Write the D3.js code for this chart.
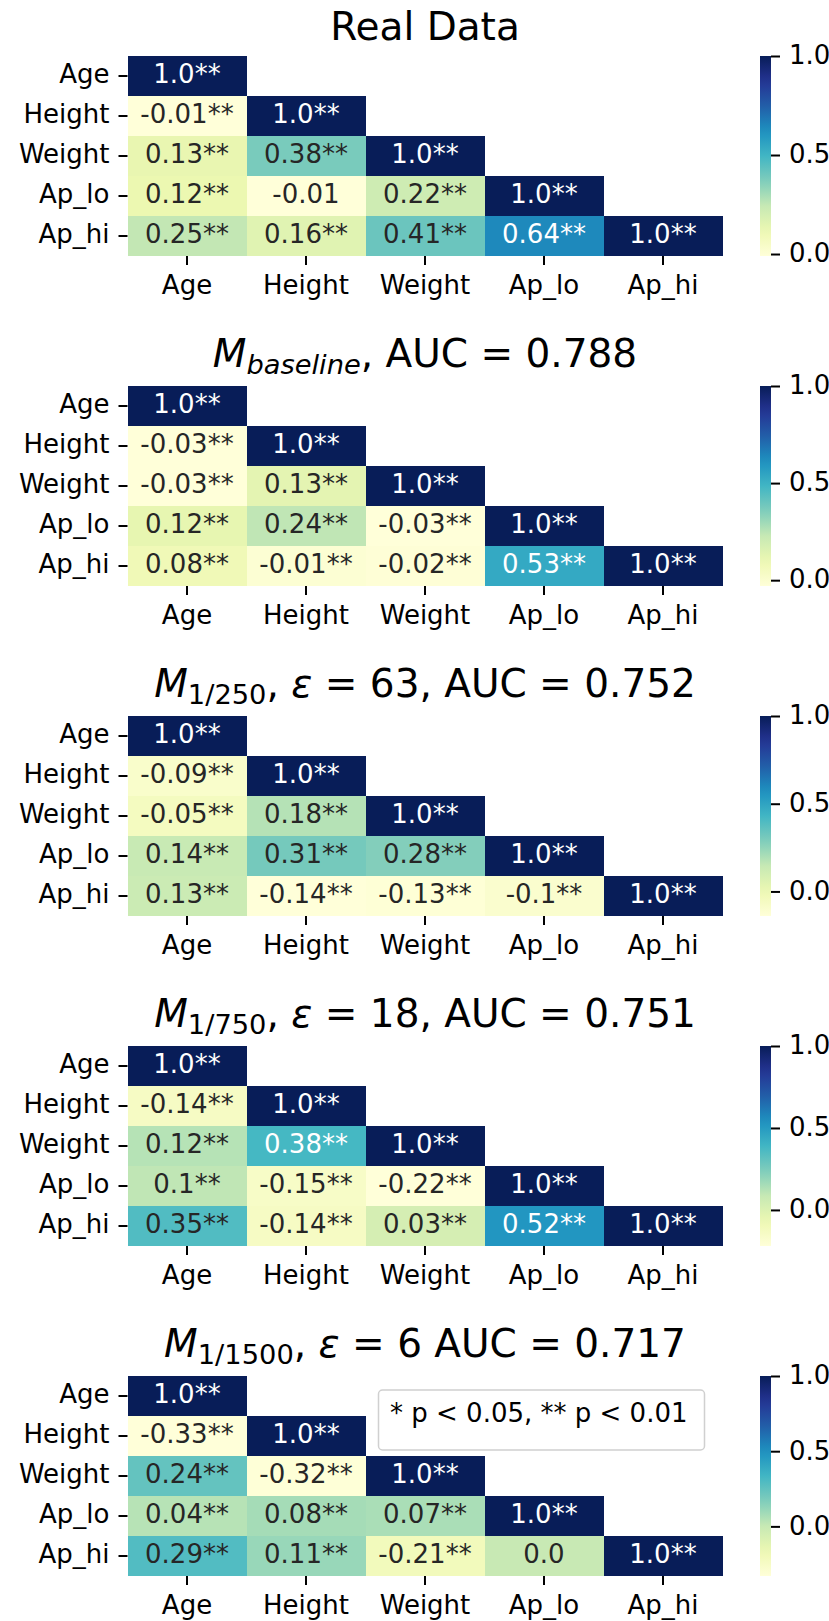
<!DOCTYPE html>
<html>
<head>
<meta charset="utf-8">
<script src="https://cdn.jsdelivr.net/npm/d3@7"></script>
<style>
  body { margin: 0; background: #fff; }
  svg text { font-family: "DejaVu Sans", sans-serif; }
</style>
</head>
<body>
<div id="chart"></div>
<script>
// variable names, used for both axes
let variables = ['Age', 'Height', 'Weight', 'Ap_lo', 'Ap_hi'];

// lower triangle of each correlation matrix, row by row (diagonal included)
let realValues = [[1.0], [-0.01, 1.0], [0.13, 0.38, 1.0], [0.12, -0.01, 0.22, 1.0], [0.25, 0.16, 0.41, 0.64, 1.0]];
let realStars = [['**'], ['**', '**'], ['**', '**', '**'], ['**', '', '**', '**'], ['**', '**', '**', '**', '**']];

let baselineValues = [[1.0], [-0.03, 1.0], [-0.03, 0.13, 1.0], [0.12, 0.24, -0.03, 1.0], [0.08, -0.01, -0.02, 0.53, 1.0]];
let baselineStars = [['**'], ['**', '**'], ['**', '**', '**'], ['**', '**', '**', '**'], ['**', '**', '**', '**', '**']];

let m250Values = [[1.0], [-0.09, 1.0], [-0.05, 0.18, 1.0], [0.14, 0.31, 0.28, 1.0], [0.13, -0.14, -0.13, -0.1, 1.0]];
let m250Stars = [['**'], ['**', '**'], ['**', '**', '**'], ['**', '**', '**', '**'], ['**', '**', '**', '**', '**']];

let m750Values = [[1.0], [-0.14, 1.0], [0.12, 0.38, 1.0], [0.1, -0.15, -0.22, 1.0], [0.35, -0.14, 0.03, 0.52, 1.0]];
let m750Stars = [['**'], ['**', '**'], ['**', '**', '**'], ['**', '**', '**', '**'], ['**', '**', '**', '**', '**']];

let m1500Values = [[1.0], [-0.33, 1.0], [0.24, -0.32, 1.0], [0.04, 0.08, 0.07, 1.0], [0.29, 0.11, -0.21, 0.0, 1.0]];
let m1500Stars = [['**'], ['**', '**'], ['**', '**', '**'], ['**', '**', '**', '**'], ['**', '**', '**', '', '**']];

// panel titles (i = italic, s = subscript)
let titles = [
    [{t: 'Real Data'}],
    [{t: 'M', i: 1}, {t: 'baseline', i: 1, s: 1}, {t: ', AUC = 0.788'}],
    [{t: 'M', i: 1}, {t: '1/250', s: 1}, {t: ', '}, {t: 'ε', i: 1}, {t: ' = 63, AUC = 0.752'}],
    [{t: 'M', i: 1}, {t: '1/750', s: 1}, {t: ', '}, {t: 'ε', i: 1}, {t: ' = 18, AUC = 0.751'}],
    [{t: 'M', i: 1}, {t: '1/1500', s: 1}, {t: ', '}, {t: 'ε', i: 1}, {t: ' = 6 AUC = 0.717'}]
];

let colorbarTicks = [0.0, 0.5, 1.0];
let legendText = '* p < 0.05, ** p < 0.01';

// matplotlib YlGnBu
let ylgnbu = ['#ffffd9', '#edf8b1', '#c7e9b4', '#7fcdbb', '#41b6c4', '#1d91c0', '#225ea8', '#253494', '#081d58'];

let panels = [
    {values: realValues, stars: realStars},
    {values: baselineValues, stars: baselineStars},
    {values: m250Values, stars: m250Stars},
    {values: m750Values, stars: m750Stars},
    {values: m1500Values, stars: m1500Stars}
];

let config = {
    svg: {width: 829, height: 1621},
    left: 127.5, width: 595, height: 200,
    firstTop: 56, step: 330,
    cbar: {x: 760, width: 11},
    font: 26, titleFont: 39
};

let svg = d3.select('#chart').append('svg')
    .attr('width', config.svg.width)
    .attr('height', config.svg.height);

let defs = svg.append('defs');

// python-like str(round(v, 2))
let fmt = v => Number.isInteger(v) ? v.toFixed(1) : String(v);

function luminance(c) {
    let rgb = d3.rgb(c);
    let f = v => { v /= 255; return v <= 0.03928 ? v / 12.92 : Math.pow((v + 0.055) / 1.055, 2.4); };
    return 0.2126 * f(rgb.r) + 0.7152 * f(rgb.g) + 0.0722 * f(rgb.b);
}

panels.forEach((p, k) => {
    let top = config.firstTop + config.step * k;
    let g = svg.append('g');

    let cells = [];
    p.values.forEach((row, i) => row.forEach((v, j) => {
        cells.push({row: variables[i], col: variables[j], v: v, star: p.stars[i][j]});
    }));

    let vmin = d3.min(cells, d => d.v), vmax = d3.max(cells, d => d.v);

    let x = d3.scaleBand().domain(variables).range([config.left, config.left + config.width]);
    let y = d3.scaleBand().domain(variables).range([top, top + config.height]);
    let color = d3.scaleLinear()
        .domain(ylgnbu.map((c, i) => vmin + (vmax - vmin) * i / (ylgnbu.length - 1)))
        .range(ylgnbu)
        .interpolate(d3.interpolateRgb);

    // title
    let hasSub = titles[k].some(s => s.s);
    let title = g.append('text')
        .attr('x', config.left + config.width / 2)
        .attr('y', top - (hasSub ? 18.7 : 16))
        .attr('text-anchor', 'middle')
        .attr('font-size', config.titleFont)
        .attr('fill', '#000');
    let shifted = false;
    titles[k].forEach(s => {
        let ts = title.append('tspan').text(s.t);
        if (s.i) ts.attr('font-style', 'italic');
        if (s.s) { ts.attr('font-size', config.titleFont * 0.7).attr('dy', 7); shifted = true; }
        else if (shifted) { ts.attr('dy', -7); shifted = false; }
    });

    // cells
    g.append('g').selectAll('rect')
        .data(cells)
        .join('rect')
            .attr('x', d => x(d.col))
            .attr('y', d => y(d.row))
            .attr('width', x.bandwidth())
            .attr('height', y.bandwidth())
            .attr('fill', d => color(d.v))
            .attr('shape-rendering', 'crispEdges');

    g.append('g').selectAll('text')
        .data(cells)
        .join('text')
            .attr('x', d => x(d.col) + x.bandwidth() / 2)
            .attr('y', d => y(d.row) + y.bandwidth() / 2 + 7.3)
            .attr('text-anchor', 'middle')
            .attr('font-size', config.font)
            .attr('fill', d => luminance(color(d.v)) > 0.408 ? '#262626' : '#ffffff')
            .text(d => fmt(d.v) + d.star);

    // axes
    let styleAxis = a => a
        .attr('font-family', null)
        .attr('font-size', config.font)
        .call(a => a.select('.domain').remove())
        .call(a => a.selectAll('.tick line').attr('stroke', '#000').attr('stroke-width', 2))
        .call(a => a.selectAll('.tick text').attr('fill', '#000'));

    g.append('g')
        .attr('transform', `translate(${config.left},0)`)
        .call(d3.axisLeft(y).tickSize(9).tickPadding(9))
        .call(styleAxis)
        .call(a => a.selectAll('.tick text').attr('dy', '0.28em'));

    g.append('g')
        .attr('transform', `translate(0,${top + config.height})`)
        .call(d3.axisBottom(x).tickSize(9).tickPadding(9))
        .call(styleAxis)
        .call(a => a.selectAll('.tick text').attr('dy', '0.77em'));

    // colorbar
    let cy = d3.scaleLinear().domain([vmin, vmax]).range([top + config.height, top]);
    let grad = defs.append('linearGradient')
        .attr('id', 'cbar' + k)
        .attr('x1', 0).attr('y1', 1).attr('x2', 0).attr('y2', 0);
    grad.selectAll('stop')
        .data(d3.range(0, 1.0001, 0.05))
        .join('stop')
            .attr('offset', t => t)
            .attr('stop-color', t => color(vmin + (vmax - vmin) * t));

    g.append('rect')
        .attr('x', config.cbar.x)
        .attr('y', top)
        .attr('width', config.cbar.width)
        .attr('height', config.height)
        .attr('fill', `url(#cbar${k})`);

    g.append('g')
        .attr('transform', `translate(${config.cbar.x + config.cbar.width},0)`)
        .call(d3.axisRight(cy)
            .tickValues(colorbarTicks.filter(t => t >= vmin && t <= vmax))
            .tickFormat(d3.format('.1f'))
            .tickSize(9).tickPadding(9))
        .call(styleAxis)
        .call(a => a.selectAll('.tick text').attr('dy', '0.3em'));

    // significance note in the last panel
    if (k === panels.length - 1) {
        g.append('rect')
            .attr('x', 378.5).attr('y', top + 14)
            .attr('width', 326).attr('height', 60)
            .attr('rx', 4)
            .attr('fill', '#fff').attr('fill-opacity', 0.8)
            .attr('stroke', '#d0d0d0').attr('stroke-width', 1.5);
        g.append('text')
            .attr('x', 390).attr('y', top + 45.5)
            .attr('font-size', config.font)
            .attr('fill', '#000')
            .text(legendText);
    }
});
</script>
</body>
</html>
